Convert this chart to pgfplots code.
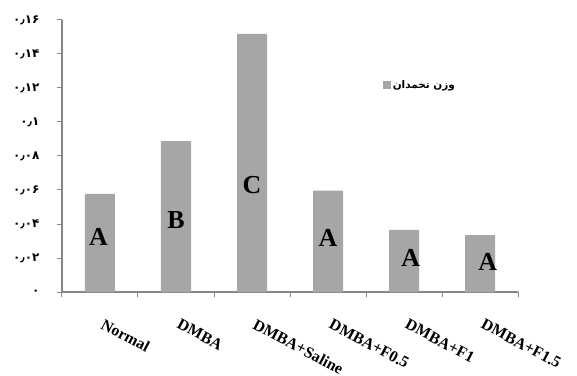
\documentclass[border=0pt]{standalone}
\usepackage{pgfplots}
\pgfplotsset{compat=1.18}
\usepackage{fontspec}
\setmainfont{Liberation Serif}
\TeXXeTstate=1
\newfontfamily\arabicfont[Script=Arabic]{DejaVu Sans}
\definecolor{bargray}{HTML}{A6A6A6}
\definecolor{axgray}{HTML}{868686}
\begin{document}
\begin{tikzpicture}
\useasboundingbox (-62bp,-84bp) rectangle (515bp,292bp);
\begin{axis}[
  scale only axis,
  width=456bp, height=272bp,
  xmin=-0.5, xmax=5.5,
  ymin=0, ymax=0.16,
  axis x line*=bottom, axis y line*=left,
  axis line style={axgray, line width=1.3bp, -},
  tick style={axgray, line width=1bp},
  tick align=outside,
  major tick length=5bp,
  xtick={-0.5,0.5,1.5,2.5,3.5,4.5,5.5},
  x tick label as interval,
  xticklabels={Normal,DMBA,DMBA+Saline,DMBA+F0.5,DMBA+F1,DMBA+F1.5},
  xticklabel style={xshift=5bp, yshift=-21bp, font=\bfseries\fontsize{16}{16}\selectfont, rotate=-28, anchor=north west, inner sep=0pt},
  ytick={0,0.02,0.04,0.06,0.08,0.1,0.12,0.14,0.16},
  yticklabels={۰,۰٫۰۲,۰٫۰۴,۰٫۰۶,۰٫۰۸,۰٫۱,۰٫۱۲,۰٫۱۴,۰٫۱۶},
  yticklabel style={font=\arabicfont\bfseries\fontsize{12}{12}\selectfont, xshift=-14bp},
  legend style={draw=none, fill=none, at={(0.703,0.785)}, anchor=north west,
    font=\arabicfont\bfseries\fontsize{10.5}{10.5}\selectfont, inner sep=0pt},
  legend image code/.code={\fill[bargray] (0bp,-4bp) rectangle (8bp,4bp);},
  clip=false,
]
\addplot[ybar, bar width=30bp, fill=bargray, draw=none] coordinates {
  (0,0.0577) (1,0.0888) (2,0.1518) (3,0.0596) (4,0.0365) (5,0.0335)
};
\addlegendentry{\beginR وزن تخمدان\endR}
\addplot[only marks, mark=none, point meta=explicit symbolic,
  nodes near coords, nodes near coords align={center},
  every node near coord/.append style={font=\bfseries\fontsize{26}{26}\selectfont, black, anchor=center}]
  coordinates {
  (-0.02,0.0324) [A] (1,0.0426) [B] (2,0.063) [C] (3,0.0318) [A] (4.09,0.020) [A] (5.10,0.0178) [A]
};
\end{axis}
\end{tikzpicture}
\end{document}
